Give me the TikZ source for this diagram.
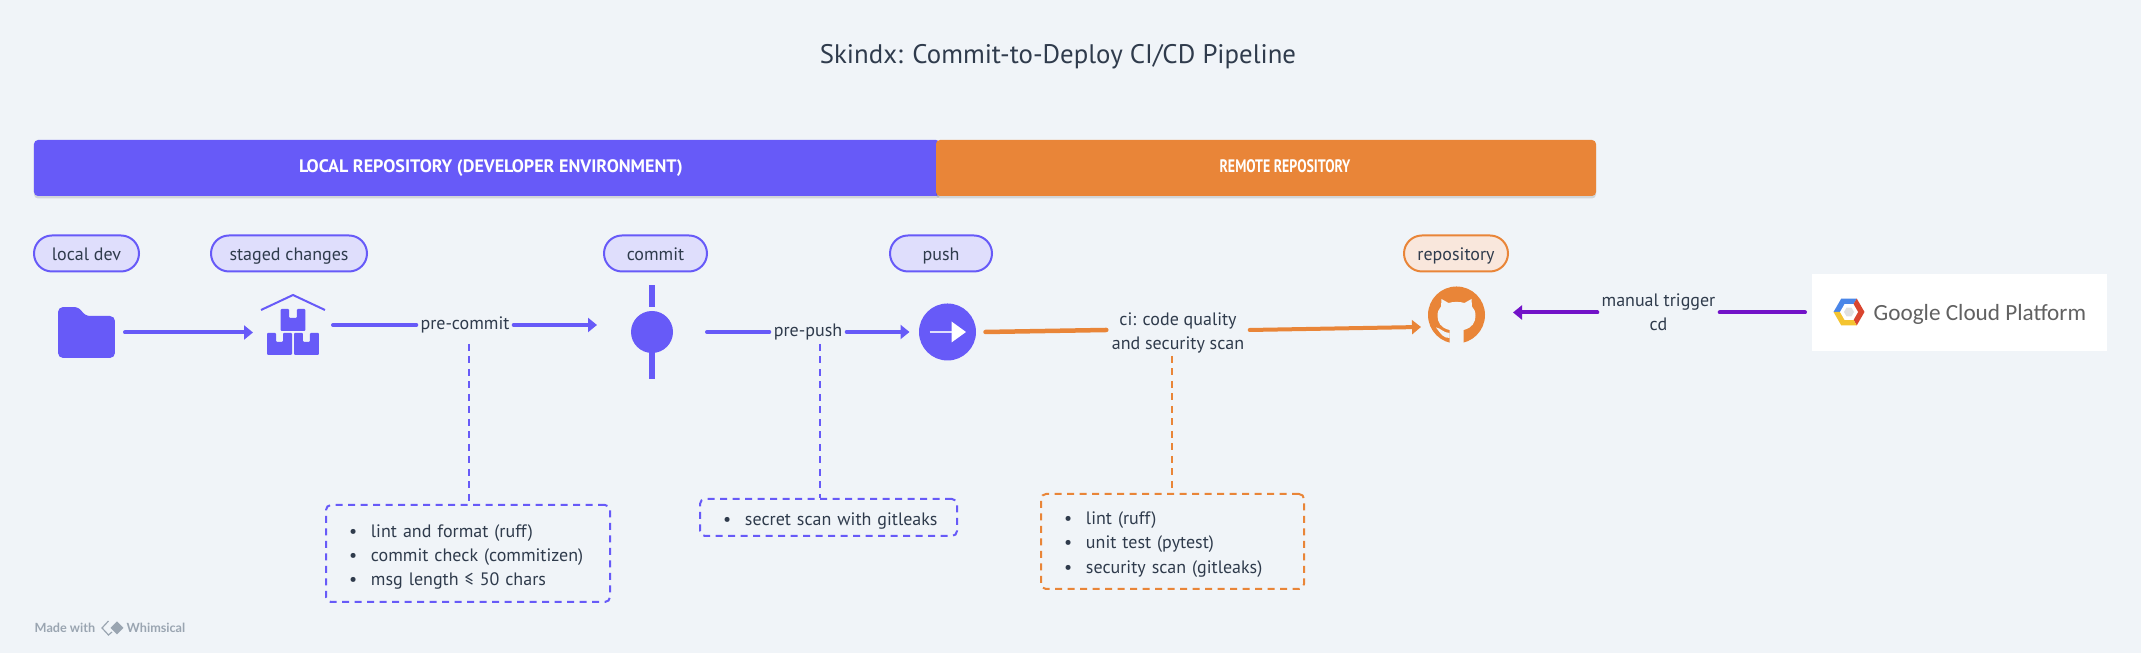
\documentclass[tikz,border=0pt]{standalone}
\usepackage{fontspec}
\setmainfont{PT Sans}
\newfontfamily\narrowfont[FakeStretch=.77]{PT Sans}
\newfontfamily\logofont{Carlito}
\newfontfamily\footfont{Lato}
\usetikzlibrary{arrows.meta,calc,shadows}

\definecolor{pagebg}{HTML}{F0F4F8}
\definecolor{inkdark}{HTML}{2F3B4C}
\definecolor{localblue}{HTML}{675AF8}
\definecolor{localpale}{HTML}{DFDEFC}
\definecolor{remoteorange}{HTML}{E98538}
\definecolor{remotepale}{HTML}{F9E7DC}
\definecolor{cdpurple}{HTML}{7212C8}
\definecolor{footgrey}{HTML}{9AA5B1}
\definecolor{gcpblue}{HTML}{4A86E8}
\definecolor{gcpred}{HTML}{D9452F}
\definecolor{gcpyellow}{HTML}{F4C430}

\newcommand{\bulletline}[1]{\mbox{\rule{0pt}{5.4pt}\makebox[.22cm][l]{\textbullet}#1}}

\tikzset{
  bodyfont/.style={font=\fontsize{5.12pt}{6.83pt}\selectfont, text=inkdark},
  bar/.style={draw=none, minimum height=.56cm, rounded corners=.04cm,
    drop shadow={shadow xshift=0cm, shadow yshift=-.025cm, opacity=.12, fill=black}},
  bartext/.style={font=\fontsize{5.14pt}{6pt}\selectfont\bfseries, text=white, text height=3.84pt, text depth=1pt},
  pill/.style={bodyfont, rounded corners=.18cm, line width=.02cm, minimum height=.36cm, inner sep=0pt,
    text height=5pt, text depth=1pt},
  localpill/.style={pill, draw=localblue, fill=localpale},
  remotepill/.style={pill, draw=remoteorange, fill=remotepale},
  icon/.style={inner sep=0pt},
  flowtext/.style={bodyfont, inner sep=0pt, align=center},
  flow/.style={line width=.04cm, line cap=round},
  tip/.style={-{Triangle[length=.09cm,width=.14cm]}},
  notes/.style={bodyfont, rounded corners=.05cm, line width=.02cm, dash pattern=on .07cm off .055cm,
    align=left, inner xsep=.23cm, inner ysep=0pt},
  drop/.style={line width=.02cm, dash pattern=on .07cm off .055cm},
}

\begin{document}
\begin{tikzpicture}

% page
\fill[pagebg] (0,0) rectangle (21.41,6.53);

% title
\node[font=\fontsize{7.63pt}{9pt}\selectfont, text=inkdark] (title) at (10.58,5.965) {Skindx: Commit-to-Deploy CI/CD Pipeline};

% top bars
\node[bar, fill=localblue, minimum width=9.06cm] (localbar) at (4.87,4.85) {};
\node[bar, fill=remoteorange, minimum width=6.60cm] (remotebar) at (12.66,4.85) {};
\node[bartext] (localtext) at (4.91,4.85) {LOCAL REPOSITORY (DEVELOPER ENVIRONMENT)};
\node[bartext, font=\narrowfont\fontsize{5.14pt}{6pt}\selectfont\bfseries] (remotetext) at (12.85,4.85) {REMOTE REPOSITORY};

% stage labels
\node[localpill, minimum width=1.05cm] (pilllocal) at (0.865,3.995) {local dev};
\node[localpill, minimum width=1.56cm] (pillstaged) at (2.89,3.995) {staged changes};
\node[localpill, minimum width=1.03cm] (pillcommit) at (6.555,3.995) {commit};
\node[localpill, minimum width=1.02cm] (pillpush) at (9.41,3.995) {push};
\node[remotepill, minimum width=1.04cm] (pillrepo) at (14.56,3.995) {repository};

% folder
\node[icon, minimum width=.57cm, minimum height=.51cm, outer sep=.10cm] (folder) at (0.865,3.205) {};
\begin{scope}[shift={(folder.center)},x=.01cm,y=.01cm]
\fill[localblue, rounded corners=.05cm] (-28.5,25.5) -- (-7.5,25.5) -- (-1.5,16.5) -- (28.5,16.5) -- (28.5,-25.5) -- (-28.5,-25.5) -- cycle;
\end{scope}

% staged boxes
\node[icon, minimum width=.64cm, minimum height=.60cm, outer sep=.08cm] (staged) at (2.93,3.28) {};
\begin{scope}[shift={(staged.center)},x=.01cm,y=.01cm]
\draw[localblue, line width=.02cm] (-32,15) -- (0,30) -- (32,15);
\fill[localblue, rounded corners=.01cm] (-12.3,16) -- (-4,16) -- (-4,7) -- (4,7) -- (4,16) -- (12.3,16) -- (12.3,-6) -- (-12.3,-6) -- cycle;
\fill[localblue, rounded corners=.01cm] (-26,-8) -- (-17,-8) -- (-17,-17) -- (-10,-17) -- (-10,-8) -- (-1,-8) -- (-1,-30) -- (-26,-30) -- cycle;
\fill[localblue, rounded corners=.01cm] (1,-8) -- (10,-8) -- (10,-17) -- (17,-17) -- (17,-8) -- (26,-8) -- (26,-30) -- (1,-30) -- cycle;
\end{scope}

% commit dot
\node[icon, circle, fill=localblue, minimum size=.42cm, outer sep=.34cm] (commit) at (6.52,3.21) {};
\fill[localblue] ($(commit.center)+(-.03,.47)$) rectangle ($(commit.center)+(.03,.25)$);
\fill[localblue] ($(commit.center)+(-.03,-.47)$) rectangle ($(commit.center)+(.03,-.15)$);

% push dot
\node[icon, circle, fill=localblue, minimum size=.57cm, outer sep=.095cm] (push) at (9.475,3.21) {};
\begin{scope}[shift={(push.center)},x=.01cm,y=.01cm]
\draw[localpale, line width=.015cm] (-18,0) -- (4,0);
\fill[white] (4,10.5) -- (18.5,0) -- (4,-10.5) -- cycle;
\end{scope}

% repository mark
\node[icon, circle, fill=remoteorange, minimum size=.57cm, outer sep=.28cm] (github) at (14.565,3.38) {};
\begin{scope}[shift={(github.center)},x=.01cm,y=.01cm]
\fill[pagebg] (-7,-29) -- (-7,-15) .. controls (-16,-13) and (-19,-7) .. (-19,-1) .. controls (-19,3) and (-18,6) .. (-15.5,8.5) -- (-15,16) -- (-8,12) .. controls (-3,13.5) and (3,13.5) .. (8,12) -- (15,16) -- (15.5,8.5) .. controls (18,6) and (19,3) .. (19,-1) .. controls (19,-7) and (16,-13) .. (7,-15) -- (7,-29) -- cycle;
\fill[pagebg] (-20.5,-12.5) .. controls (-16,-13) and (-13,-18) .. (-7,-18) -- (-7,-23) .. controls (-13,-23) and (-15,-20) .. cycle;
\end{scope}

% cloud logo
\node[icon, fill=white, minimum width=2.95cm, minimum height=.77cm, outer sep=.07cm] (gcp) at (19.595,3.405) {};
\coordinate (gcpmark) at (18.49,3.41);
\begin{scope}[shift={(gcpmark)},x=.01cm,y=.01cm]
\fill[gcpblue] (0,0) -- (180:15.5) -- (120:15.5) -- (60:15.5) -- cycle;
\fill[gcpred] (0,0) -- (60:15.5) -- (0:15.5) -- (-60:15.5) -- cycle;
\fill[gcpyellow] (0,0) -- (-60:15.5) -- (-120:15.5) -- (180:15.5) -- cycle;
\fill[white] (0:9) -- (60:9) -- (120:9) -- (180:9) -- (240:9) -- (300:9) -- cycle;
\fill[black!12] (0:5) -- (60:5) -- (120:5) -- (180:5) -- (240:5) -- (300:5) -- cycle;
\end{scope}
\node[font=\logofont\fontsize{6.6pt}{8pt}\selectfont, text=black!62, anchor=west, inner sep=0pt] (gcptext) at (18.73,3.39) {Google Cloud Platform};

% connector labels
\node[flowtext, minimum width=.96cm] (precommit) at (4.65,3.28) {pre-commit};
\node[flowtext, minimum width=.76cm] (prepush) at (8.08,3.21) {pre-push};
\node[flowtext, minimum width=1.42cm] (ci) at (11.78,3.23) {\rule{0pt}{5.4pt}ci: code quality\\and security scan};
\node[flowtext, minimum width=1.21cm] (trigger) at (16.585,3.405) {manual trigger\\cd};

% local flow
\draw[flow, localblue, tip] (folder.east) -- (folder.east -| staged.west);
\draw[flow, localblue] (staged.east) -- (precommit.west);
\draw[flow, localblue, tip] (precommit.east) -- (precommit.east -| commit.west);
\draw[flow, localblue] (commit.east) -- (prepush.west);
\draw[flow, localblue, tip] (prepush.east) -- (push.west);

% remote flow
\coordinate (repoin) at (14.21,3.26);
\draw[flow, remoteorange, line width=.045cm] (push.east) -- (ci.west);
\draw[flow, remoteorange, tip] (ci.east) -- (repoin);

% manual deploy
\draw[flow, cdpurple] (gcp.west) -- (trigger.east);
\draw[flow, cdpurple, tip] (trigger.west) -- (trigger.west -| github.east);

% check lists
\node[notes, draw=localblue, minimum height=.97cm, text width=2.38cm] (precheck) at (4.68,0.995) {\bulletline{lint and format (ruff)}\\\bulletline{commit check (commitizen)}\\\bulletline{msg length ≤ 50 chars}};
\node[notes, draw=localblue, minimum height=.37cm, text width=2.11cm] (pushcheck) at (8.285,1.355) {\bulletline{secret scan with gitleaks}};
\node[notes, draw=remoteorange, minimum height=.95cm, text width=2.17cm] (cicheck) at (11.725,1.115) {\bulletline{lint (ruff)}\\\bulletline{unit test (pytest)}\\\bulletline{security scan (gitleaks)}};

% dashed drops
\coordinate (predrop) at (4.69,3.09);
\coordinate (pushdrop) at (8.20,3.09);
\coordinate (cidrop) at (11.72,2.97);
\draw[drop, localblue] (predrop) -- (predrop |- precheck.north);
\draw[drop, localblue] (pushdrop) -- (pushdrop |- pushcheck.north);
\draw[drop, remoteorange] (cidrop) -- (cidrop |- cicheck.north);

% footer
\node[font=\footfont\bfseries\fontsize{3.6pt}{4pt}\selectfont, text=footgrey, anchor=west, inner sep=0pt] (madewith) at (0.34,0.25) {Made with};
\node[font=\footfont\bfseries\fontsize{3.6pt}{4pt}\selectfont, text=footgrey, anchor=west, inner sep=0pt] (whimsical) at (1.26,0.25) {Whimsical};
\coordinate (whimmark) at (1.17,0.25);
\begin{scope}[shift={(whimmark)},x=.01cm,y=.01cm]
\fill[footgrey] (-6.5,0) -- (0,6.5) -- (6.5,0) -- (0,-6.5) -- cycle;
\draw[footgrey, line width=.012cm] (-8.5,7) -- (-15,0) -- (-8.5,-7) -- (-5,-4);
\end{scope}

\end{tikzpicture}
\end{document}
